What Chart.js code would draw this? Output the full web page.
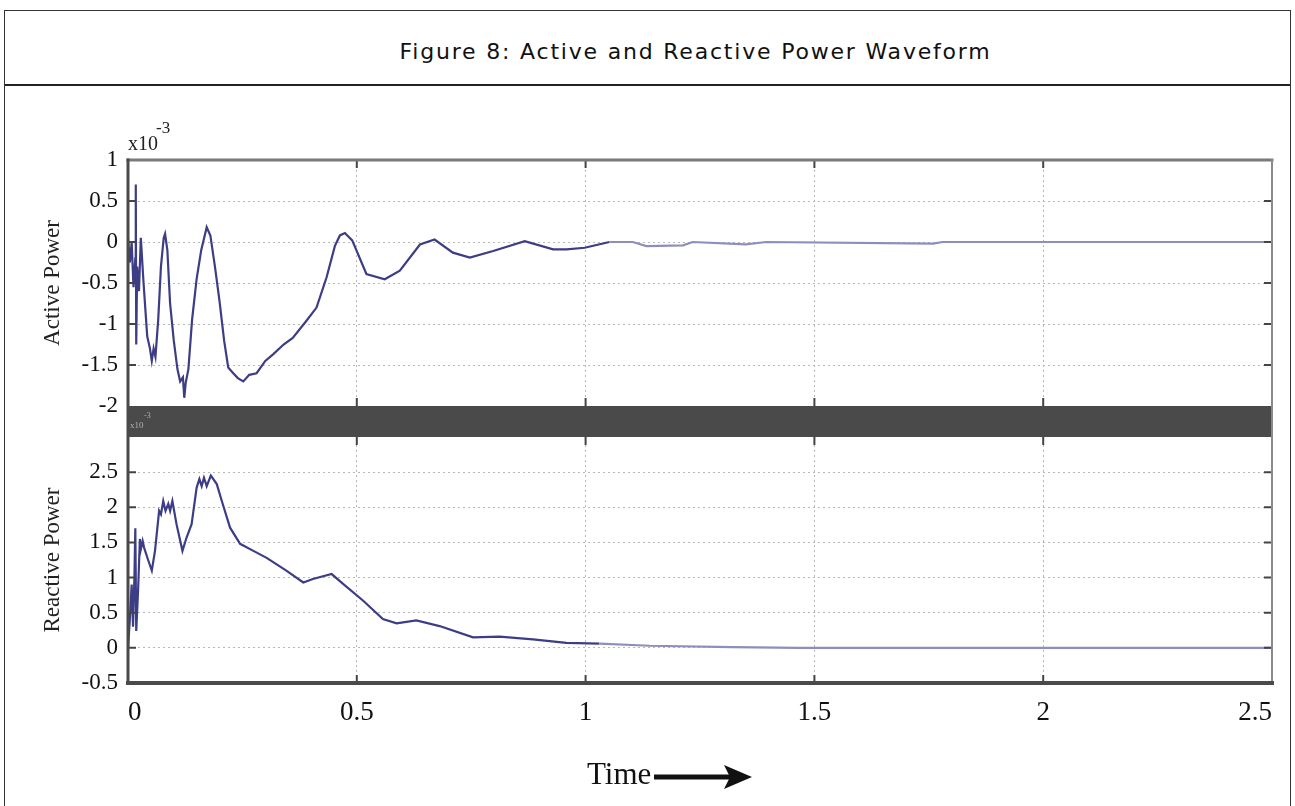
<!DOCTYPE html>
<html>
<head>
<meta charset="utf-8">
<script src="https://cdn.jsdelivr.net/npm/chart.js@4.4.1/dist/chart.umd.min.js"></script>
<style>
  html, body { margin: 0; padding: 0; background: #fff; }
  body { width: 1295px; height: 806px; position: relative; overflow: hidden; font-family: "Liberation Serif", serif; }
  #box { position: absolute; left: 4px; top: 10px; width: 1285px; height: 840px; border: 1.5px solid #333; }
  #head { position: absolute; left: 0; top: 0; right: 0; height: 75px; border-bottom: 2px solid #222;
          display: flex; align-items: center; justify-content: center; box-sizing: border-box;
          padding: 8px 0 0 96px;
          font-family: "DejaVu Sans", sans-serif; font-size: 22px; letter-spacing: 1.8px; color: #111; }
  #chart { position: absolute; left: 0; top: 0; }
  #xlabel { position: absolute; left: 587px; top: 756px; font-size: 31px; color: #111; white-space: nowrap; }
  #xlabel svg { vertical-align: middle; margin-left: 3px; }
</style>
</head>
<body>
<div id="box"><div id="head">Figure 8: Active and Reactive Power Waveform</div></div>
<canvas id="chart" width="1295" height="806"></canvas>
<div id="xlabel">Time<svg width="98" height="26" viewBox="0 0 98 26"><line x1="0" y1="13" x2="78" y2="13" stroke="#111" stroke-width="5"/><polygon points="70,1 98,13 70,25 76,13" fill="#111"/></svg></div>
<script>
// time axis (s) and values (x10^-3)
const timeActive = [0, 0.004, 0.008, 0.012, 0.016, 0.017, 0.018, 0.02, 0.024, 0.028, 0.034, 0.042, 0.048, 0.052,
  0.056, 0.06, 0.066, 0.072, 0.078, 0.081, 0.086, 0.092, 0.1, 0.108, 0.114, 0.12, 0.123, 0.126, 0.132, 0.14,
  0.15, 0.16, 0.172, 0.18, 0.19, 0.2, 0.21, 0.219, 0.23, 0.24, 0.252, 0.265, 0.281, 0.3, 0.317, 0.34, 0.36,
  0.39, 0.412, 0.434, 0.452, 0.463, 0.474, 0.49, 0.521, 0.561, 0.594, 0.638, 0.67, 0.71, 0.747, 0.798, 0.867,
  0.929, 0.958, 0.998, 1.052, 1.103, 1.133, 1.213, 1.234, 1.35, 1.395, 1.76, 1.78, 2.5];
const activePower = [0.05, -0.25, 0.0, -0.55, -0.2, 0.7, -1.25, -0.3, -0.6, 0.05, -0.5, -1.15, -1.3, -1.45,
  -1.3, -1.4, -0.95, -0.3, 0.05, 0.1, -0.1, -0.75, -1.2, -1.55, -1.7, -1.65, -1.9, -1.72, -1.55, -0.95,
  -0.45, -0.1, 0.18, 0.08, -0.3, -0.72, -1.2, -1.53, -1.6, -1.66, -1.7, -1.62, -1.6, -1.45, -1.37, -1.25, -1.17,
  -0.96, -0.8, -0.43, -0.05, 0.08, 0.11, 0.02, -0.39, -0.455, -0.35, -0.03, 0.03, -0.13, -0.19, -0.11, 0.01,
  -0.09, -0.09, -0.07, 0.0, 0.0, -0.05, -0.04, 0.0, -0.03, 0.0, -0.02, 0.0, 0.0];

const timeReactive = [0, 0.004, 0.008, 0.011, 0.014, 0.016, 0.018, 0.022, 0.026, 0.028, 0.032, 0.035, 0.044,
  0.052, 0.059, 0.068, 0.072, 0.077, 0.082, 0.088, 0.092, 0.097, 0.106, 0.119, 0.128, 0.139, 0.15, 0.156,
  0.161, 0.166, 0.172, 0.181, 0.194, 0.205, 0.223, 0.245, 0.274, 0.303, 0.346, 0.383, 0.404, 0.445, 0.47,
  0.514, 0.557, 0.587, 0.63, 0.681, 0.754, 0.812, 0.885, 0.958, 1.03, 1.14, 1.32, 1.467, 2.5];
const reactivePower = [0.0, 0.4, 0.9, 0.3, 1.0, 1.7, 0.24, 0.81, 1.55, 1.4, 1.52, 1.43, 1.25,
  1.1, 1.38, 1.95, 1.9, 2.09, 1.95, 2.05, 1.95, 2.09, 1.76, 1.38, 1.57, 1.76, 2.28, 2.4,
  2.3, 2.42, 2.3, 2.45, 2.33, 2.09, 1.71, 1.48, 1.38, 1.28, 1.1, 0.93, 0.98, 1.05, 0.91,
  0.67, 0.41, 0.35, 0.39, 0.31, 0.15, 0.16, 0.12, 0.07, 0.06, 0.03, 0.01, 0.0, 0.0];

const xTicks = [0, 0.5, 1, 1.5, 2, 2.5];
const activeTicks = [1, 0.5, 0, -0.5, -1, -1.5, -2];
const reactiveTicks = [2.5, 2, 1.5, 1, 0.5, 0, -0.5];

const SERIF = '"Liberation Serif", "Times New Roman", serif';

const toPoints = (ts, vs) => ts.map((t, i) => ({ x: t, y: vs[i] }));
const setTicks = (arr) => (s) => { s.ticks = arr.map(v => ({ value: v })); };
const plainLabel = (v) => String(v);
const gridColor = (c) => {
  const s = c.scale;
  if (!c.tick || c.tick.value <= s.min || c.tick.value >= s.max) return 'rgba(0,0,0,0)';
  return '#b8b8b8';
};
const lineColor = (c) => c.p0.parsed.x < 1.0 ? '#3d3d86' : '#8e8eba';

const framePlugin = {
  id: 'frame',
  afterDatasetsDraw(chart) {
    const ctx = chart.ctx;
    const x = chart.scales.x, yA = chart.scales.yA, yB = chart.scales.yBand, yR = chart.scales.yR;
    const L = x.left, R = x.right;
    ctx.save();

    // inside tick marks (matlab style)
    ctx.strokeStyle = '#444';
    ctx.lineWidth = 2;
    [yA, yR].forEach(s => {
      s.ticks.forEach(t => {
        const py = s.getPixelForValue(t.value);
        if (py <= s.top + 1 || py >= s.bottom - 1) return;
        ctx.beginPath();
        ctx.moveTo(L, py); ctx.lineTo(L + 8, py);
        ctx.moveTo(R, py); ctx.lineTo(R - 8, py);
        ctx.stroke();
      });
    });
    x.ticks.forEach(t => {
      const px = x.getPixelForValue(t.value);
      if (px <= L + 1 || px >= R - 1) return;
      [[yA.top, 8], [yA.bottom, -8], [yR.top, 8], [yR.bottom, -8]].forEach(([py, d]) => {
        ctx.beginPath(); ctx.moveTo(px, py); ctx.lineTo(px, py + d); ctx.stroke();
      });
    });

    // dark band between the two plots
    ctx.fillStyle = '#4a4a4a';
    ctx.fillRect(L, yB.top, R - L, yB.bottom - yB.top);

    // frames
    ctx.lineCap = 'square';
    ctx.strokeStyle = '#7a7a7a'; ctx.lineWidth = 3;
    ctx.beginPath(); ctx.moveTo(L, yA.top); ctx.lineTo(R, yA.top); ctx.stroke();
    ctx.strokeStyle = '#8a8a8a'; ctx.lineWidth = 2;
    ctx.beginPath(); ctx.moveTo(R, yA.top); ctx.lineTo(R, yR.bottom); ctx.stroke();
    ctx.strokeStyle = '#4a4a4a'; ctx.lineWidth = 3;
    ctx.beginPath(); ctx.moveTo(L, yA.top); ctx.lineTo(L, yR.bottom); ctx.stroke();
    ctx.lineWidth = 4;
    ctx.beginPath(); ctx.moveTo(L, yR.bottom); ctx.lineTo(R, yR.bottom); ctx.stroke();

    // exponent labels
    ctx.fillStyle = '#222';
    ctx.textBaseline = 'alphabetic';
    ctx.font = '20px ' + SERIF;
    ctx.fillText('x10', L, yA.top - 10);
    ctx.font = '17px ' + SERIF;
    ctx.fillText('-3', L + 28, yA.top - 27);
    ctx.fillStyle = '#b0b0b0';
    ctx.font = '9px ' + SERIF;
    ctx.fillText('x10', L + 2, yB.top + 22);
    ctx.font = '8px ' + SERIF;
    ctx.fillText('-3', L + 16, yB.top + 12);
    ctx.restore();
  }
};

const yCommon = {
  type: 'linear',
  position: 'left',
  stack: 'power',
  afterFit: (s) => { s.width = 128; },
  border: { display: false, dash: [2, 3] },
  grid: { color: gridColor, lineWidth: 1, drawTicks: false },
  ticks: { color: '#111', padding: 10, autoSkip: false, callback: plainLabel, font: { family: SERIF, size: 23 } }
};

new Chart(document.getElementById('chart'), {
  type: 'line',
  data: {
    datasets: [
      { label: 'Active Power', data: toPoints(timeActive, activePower), yAxisID: 'yA', xAxisID: 'x',
        borderColor: '#3d3d86', borderWidth: 2.2, pointRadius: 0, tension: 0, segment: { borderColor: lineColor } },
      { label: 'Reactive Power', data: toPoints(timeReactive, reactivePower), yAxisID: 'yR', xAxisID: 'x',
        borderColor: '#3d3d86', borderWidth: 2.2, pointRadius: 0, tension: 0, segment: { borderColor: lineColor } }
    ]
  },
  options: {
    responsive: false,
    animation: false,
    devicePixelRatio: 1,
    layout: { padding: { top: 160, right: 23, left: 0, bottom: 0 } },
    plugins: { legend: { display: false }, tooltip: { enabled: false } },
    scales: {
      x: {
        type: 'linear', min: 0, max: 2.5,
        afterBuildTicks: setTicks(xTicks),
        afterFit: (s) => { s.height = 123; },
        border: { display: false, dash: [2, 3] },
        grid: { color: gridColor, lineWidth: 1, drawTicks: false },
        ticks: { color: '#111', padding: 14, align: 'inner', maxRotation: 0, autoSkip: false,
                 callback: plainLabel, font: { family: SERIF, size: 27 } }
      },
      yR: Object.assign({}, yCommon, {
        min: -0.5, max: 3, stackWeight: 246,
        afterBuildTicks: setTicks(reactiveTicks),
        title: { display: true, text: 'Reactive Power', color: '#222', padding: { top: 39, bottom: 0 },
                 font: { family: SERIF, size: 23 } }
      }),
      yBand: Object.assign({}, yCommon, {
        min: 0, max: 1, stackWeight: 31,
        grid: { display: false },
        ticks: { display: false }
      }),
      yA: Object.assign({}, yCommon, {
        min: -2, max: 1, stackWeight: 246,
        afterBuildTicks: setTicks(activeTicks),
        title: { display: true, text: 'Active Power', color: '#222', padding: { top: 39, bottom: 0 },
                 font: { family: SERIF, size: 23 } }
      })
    }
  },
  plugins: [framePlugin]
});
</script>
</body>
</html>
